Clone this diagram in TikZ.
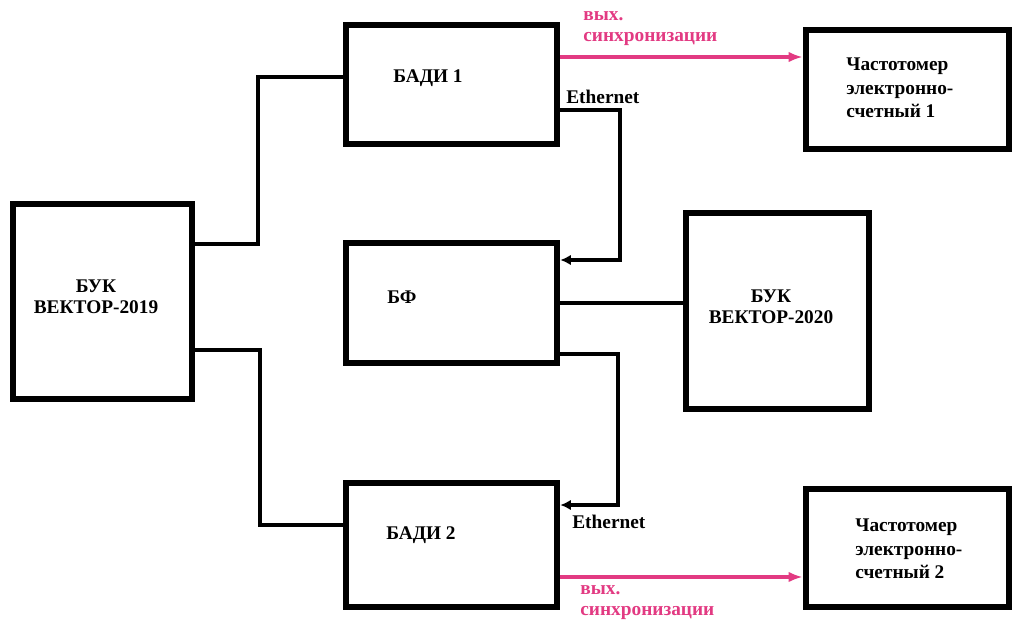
\documentclass[tikz,border=0pt]{standalone}
\usepackage{fontspec}
\setmainfont{Liberation Serif}
\usepackage{tikz}
\usetikzlibrary{arrows.meta,positioning}
\definecolor{syncpink}{RGB}{226,58,130}

\begin{document}
\begin{tikzpicture}[x=0.02cm,y=-0.02cm,
box/.style={draw,line width=3.8pt,inner sep=0pt},
txt/.style={inner sep=0pt,align=left,font=\bfseries\fontsize{11}{12}\selectfont},
link/.style={line width=2.1pt},
arrow/.style={line width=2.1pt,-{Latex[length=6pt,width=6pt]}},
sync/.style={line width=2pt,draw=syncpink,-{Latex[length=8pt,width=6pt]}}
]
\useasboundingbox (0,0) rectangle (1018,624);
\node[box,minimum width=3.58cm,minimum height=3.9cm] (buk19) at (102.5,301.5) {};
\node[box,minimum width=4.22cm,minimum height=2.38cm] (badi1) at (451.5,84.5) {};
\node[box,minimum width=4.22cm,minimum height=2.4cm] (bf) at (451.5,303) {};
\node[box,minimum width=4.22cm,minimum height=2.48cm] (badi2) at (451.5,545) {};
\node[box,minimum width=3.66cm,minimum height=3.92cm] (buk20) at (777.5,311) {};
\node[box,minimum width=4.06cm,minimum height=2.38cm] (freq1) at (907.5,89.5) {};
\node[box,minimum width=4.06cm,minimum height=2.36cm] (freq2) at (907.5,548) {};

\node[txt,align=center] (buk19txt) at (96,297) {БУК\\ВЕКТОР-2019};
\node[txt] (badi1txt) at (428,78) {БАДИ 1};
\node[txt] (bftxt) at (402,297) {БФ};
\node[txt] (badi2txt) at (421,535) {БАДИ 2};
\node[txt,align=center] (buk20txt) at (771,307) {БУК\\ВЕКТОР-2020};
\node[txt,anchor=west,font=\bfseries\fontsize{11}{13.4}\selectfont] (freq1txt) at (846,88) {Частотомер\\электронно-\\счетный 1};
\node[txt,anchor=west,font=\bfseries\fontsize{11}{13.4}\selectfont] (freq2txt) at (855,549) {Частотомер\\электронно-\\счетный 2};

\node[txt,anchor=west,text=syncpink] (sync1txt) at (583,29) {вых.\\синхронизации};
\node[txt,anchor=west,text=syncpink] (sync2txt) at (580,603) {вых.\\синхронизации};
\node[txt,anchor=west] (eth1txt) at (566,97) {Ethernet};
\node[txt,anchor=west] (eth2txt) at (572,522) {Ethernet};

\draw[link] ([yshift=1.15cm]buk19.east) -- ++(63,0) |- ([yshift=0.15cm]badi1.west);
\draw[link] ([yshift=-0.97cm]buk19.east) -- ++(65,0) |- ([yshift=0.4cm]badi2.west);
\draw[arrow] ([yshift=-0.51cm]badi1.east) -- ++(60,0) |- ([yshift=0.86cm]bf.east);
\draw[arrow] ([yshift=-1.02cm]bf.east) -- ++(58,0) |- ([yshift=0.8cm]badi2.east);
\draw[link] (bf.east) -- (bf.east -| buk20.west);
\draw[sync] ([yshift=0.55cm]badi1.east) -- ([yshift=0.55cm]badi1.east -| freq1.west);
\draw[sync] ([yshift=-0.64cm]badi2.east) -- ([yshift=-0.64cm]badi2.east -| freq2.west);
\end{tikzpicture}
\end{document}
